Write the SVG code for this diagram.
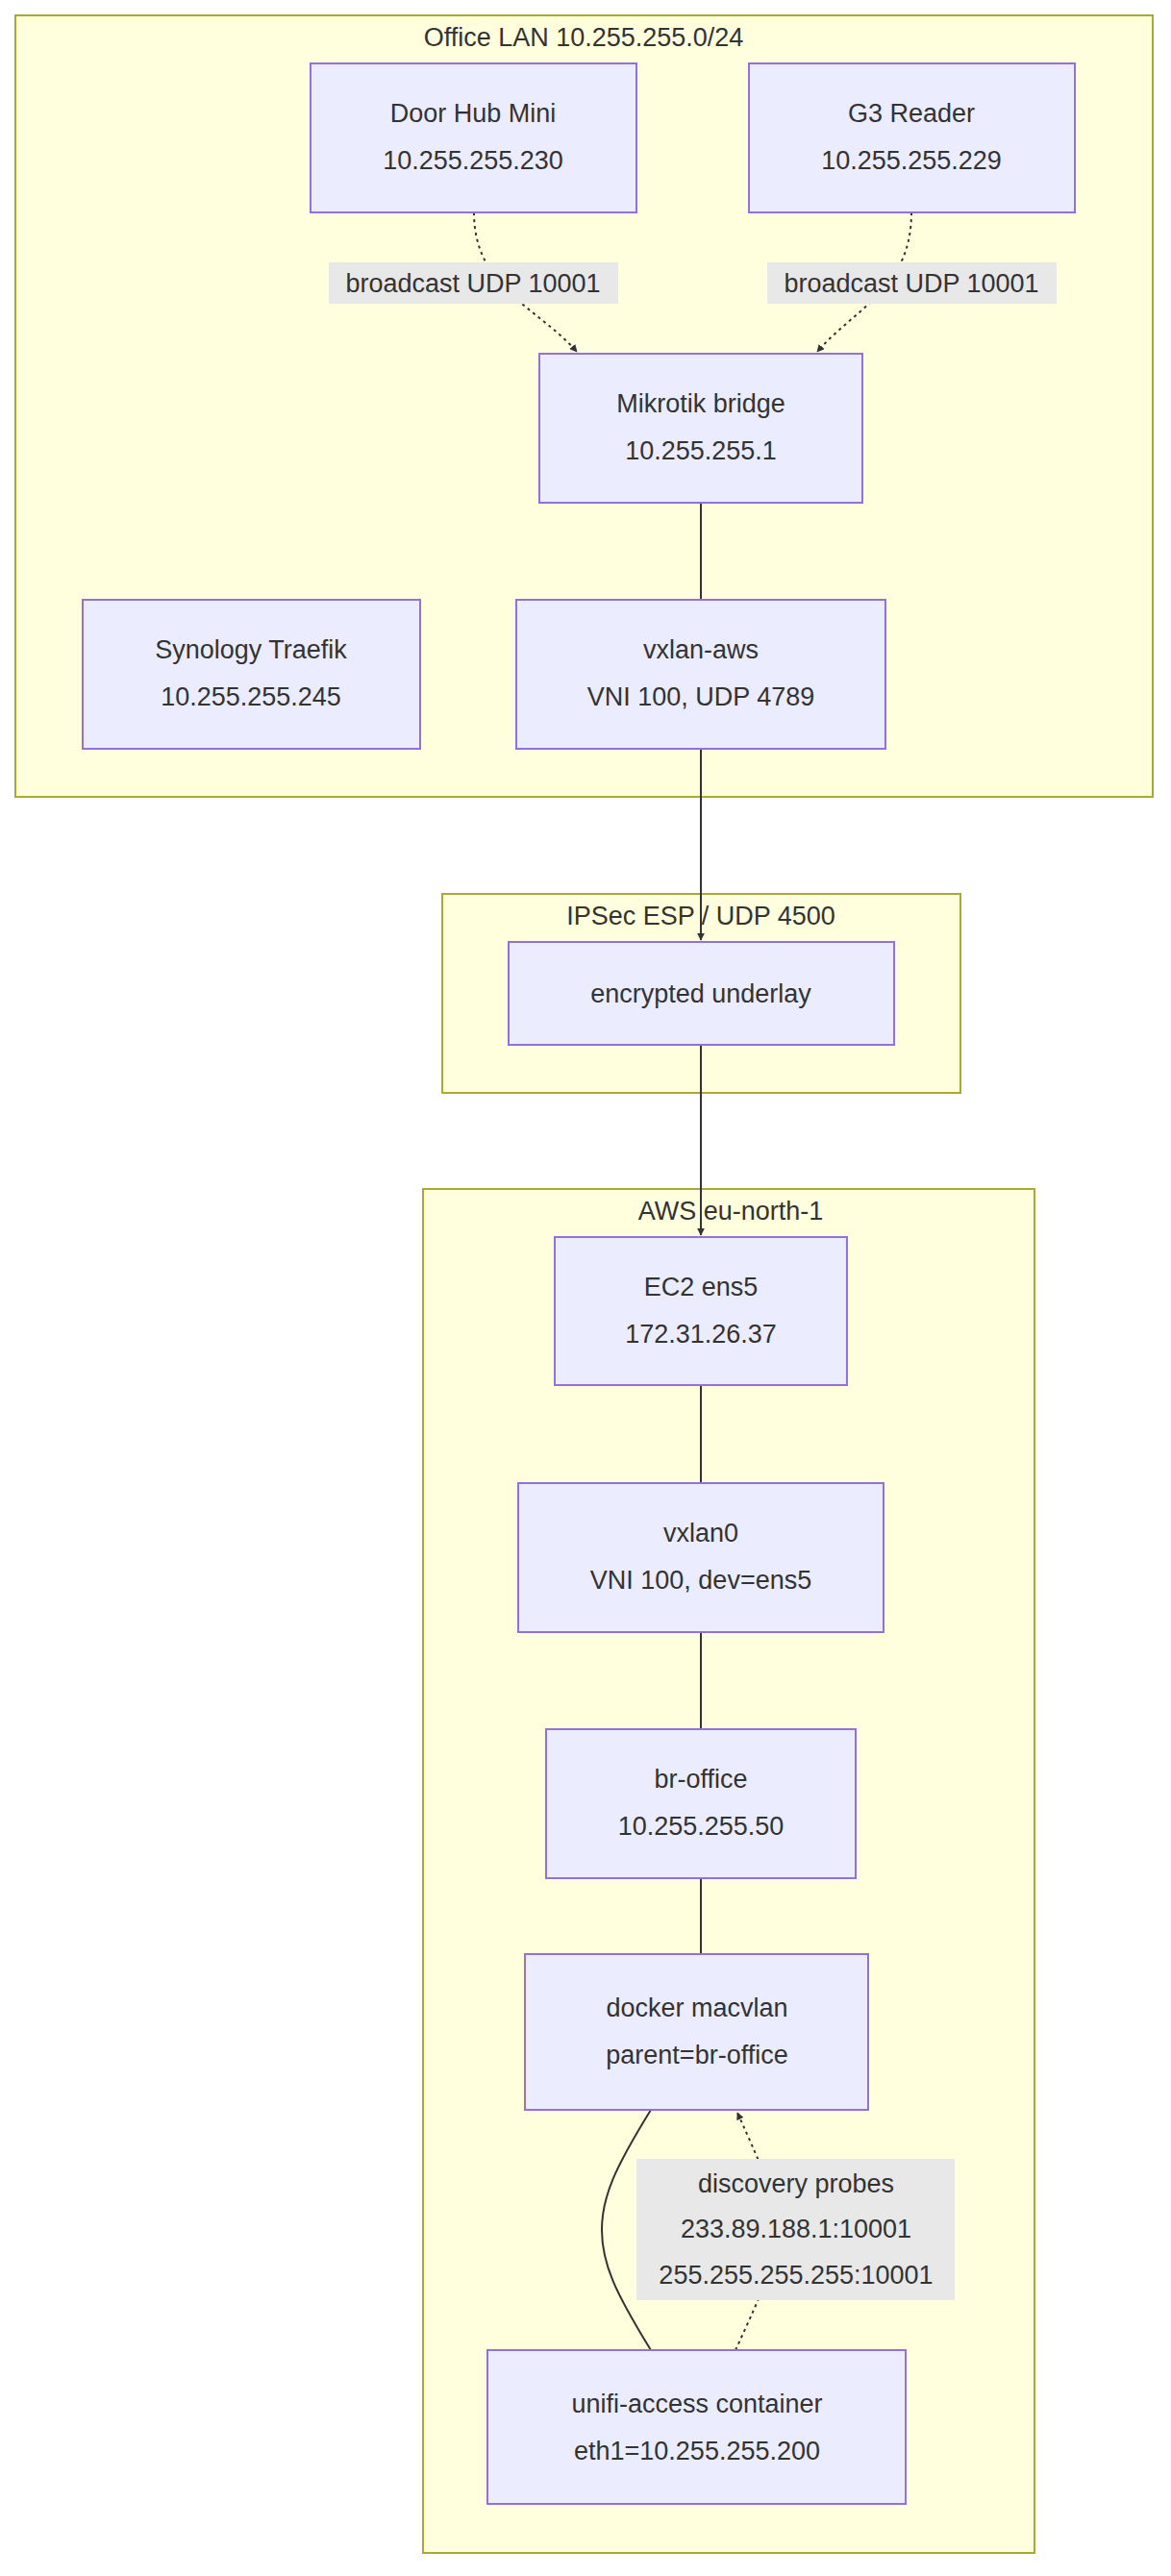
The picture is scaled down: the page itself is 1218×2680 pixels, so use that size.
<svg xmlns="http://www.w3.org/2000/svg" width="1218" height="2680" viewBox="0 0 1218 2680">
<style>
.cl{fill:#ffffde;stroke:#aaaa33;stroke-width:2}
.nd{fill:#ececff;stroke:#9370db;stroke-width:2}
.t{font-family:"Liberation Sans",Arial,sans-serif;font-size:27px;fill:#333;text-anchor:middle}
.e{fill:none;stroke:#333;stroke-width:2}
.d{fill:none;stroke:#333;stroke-width:2;stroke-dasharray:3 4}
.lb{fill:#e8e8e8}
</style>
<defs>
<marker id="ah" viewBox="0 0 10 10" refX="9" refY="5" markerWidth="8" markerHeight="8" orient="auto-start-reverse" markerUnits="userSpaceOnUse"><path d="M0,0L10,5L0,10z" fill="#333"/></marker>
</defs>
<g id="office"><rect class="cl" x="16" y="16" width="1183" height="813"/><text class="t" x="607" y="48">Office LAN 10.255.255.0/24</text></g>
<g id="ipsec"><rect class="cl" x="460" y="930" width="539" height="207"/><text class="t" x="729" y="962">IPSec ESP / UDP 4500</text></g>
<g id="aws"><rect class="cl" x="440" y="1237" width="636" height="1419"/><text class="t" x="760" y="1269">AWS eu-north-1</text></g>
<g id="edges">
<path class="d" d="M493,221 C493,300 560,320 600,366" marker-end="url(#ah)"/>
<path class="d" d="M948,221 C948,300 890,320 850,366" marker-end="url(#ah)"/>
<path class="e" d="M729,523 V624"/>
<path class="e" d="M729,779 V978" marker-end="url(#ah)"/>
<path class="e" d="M729,1087 V1285" marker-end="url(#ah)"/>
<path class="e" d="M729,1441 V1543"/>
<path class="e" d="M729,1698 V1799"/>
<path class="e" d="M729,1954 V2033"/>
<path class="e" d="M677,2195 C640,2255 626,2285 626,2320 C626,2355 640,2385 677,2445"/>
<path class="d" d="M765,2445 C795,2380 808,2350 808,2320 C808,2290 795,2260 767,2198" marker-end="url(#ah)"/>
<rect class="lb" x="342" y="273" width="301" height="43"/><text class="t" x="492" y="304">broadcast UDP 10001</text>
<rect class="lb" x="798" y="273" width="301" height="43"/><text class="t" x="948" y="304">broadcast UDP 10001</text>
<rect class="lb" x="662" y="2246" width="331" height="147"/>
<text class="t" x="828" y="2281">discovery probes</text><text class="t" x="828" y="2328">233.89.188.1:10001</text><text class="t" x="828" y="2376">255.255.255.255:10001</text>
</g>
<g id="doorhub"><rect class="nd" x="323" y="66" width="339" height="155"/><text class="t" x="492" y="127">Door Hub Mini</text><text class="t" x="492" y="176">10.255.255.230</text></g>
<g id="g3"><rect class="nd" x="779" y="66" width="339" height="155"/><text class="t" x="948" y="127">G3 Reader</text><text class="t" x="948" y="176">10.255.255.229</text></g>
<g id="mikrotik"><rect class="nd" x="561" y="368" width="336" height="155"/><text class="t" x="729" y="429">Mikrotik bridge</text><text class="t" x="729" y="478">10.255.255.1</text></g>
<g id="synology"><rect class="nd" x="86" y="624" width="351" height="155"/><text class="t" x="261" y="685">Synology Traefik</text><text class="t" x="261" y="734">10.255.255.245</text></g>
<g id="vxlanaws"><rect class="nd" x="537" y="624" width="384" height="155"/><text class="t" x="729" y="685">vxlan-aws</text><text class="t" x="729" y="734">VNI 100, UDP 4789</text></g>
<g id="underlay"><rect class="nd" x="529" y="980" width="401" height="107"/><text class="t" x="729" y="1043">encrypted underlay</text></g>
<g id="ec2"><rect class="nd" x="577" y="1287" width="304" height="154"/><text class="t" x="729" y="1348">EC2 ens5</text><text class="t" x="729" y="1397">172.31.26.37</text></g>
<g id="vxlan0"><rect class="nd" x="539" y="1543" width="380" height="155"/><text class="t" x="729" y="1604">vxlan0</text><text class="t" x="729" y="1653">VNI 100, dev=ens5</text></g>
<g id="broffice"><rect class="nd" x="568" y="1799" width="322" height="155"/><text class="t" x="729" y="1860">br-office</text><text class="t" x="729" y="1909">10.255.255.50</text></g>
<g id="macvlan"><rect class="nd" x="546" y="2033" width="357" height="162"/><text class="t" x="725" y="2098">docker macvlan</text><text class="t" x="725" y="2147">parent=br-office</text></g>
<g id="unifi"><rect class="nd" x="507" y="2445" width="435" height="160"/><text class="t" x="725" y="2510">unifi-access container</text><text class="t" x="725" y="2559">eth1=10.255.255.200</text></g>
</svg>
